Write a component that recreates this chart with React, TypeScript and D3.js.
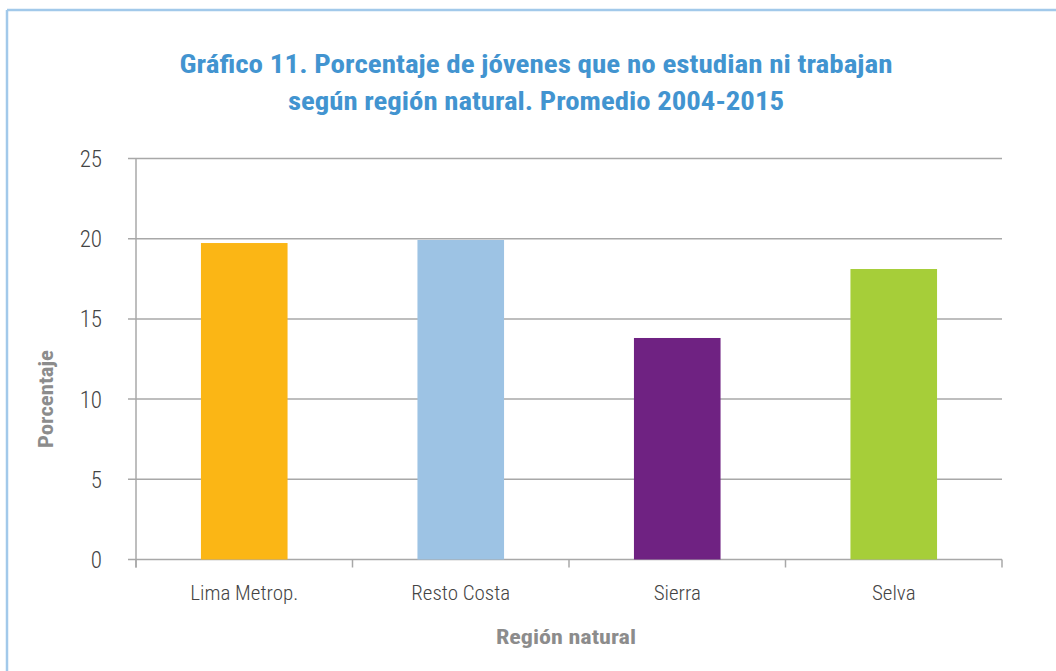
import React from "react";
import * as d3 from "d3";

const categories = ["Lima Metrop.", "Resto Costa", "Sierra", "Selva"];
const values = [19.73, 19.92, 13.81, 18.11];
const barColors = ["#FBB615", "#9DC3E4", "#6F2282", "#A6CE39"];
const yTicks = [0, 5, 10, 15, 20, 25];
const titleLines = [
  "Gráfico 11. Porcentaje de jóvenes que no estudian ni trabajan",
  "según región natural. Promedio 2004-2015",
];
const titleWidths = [713, 496];
const yAxisTitle = "Porcentaje";
const xAxisTitle = "Región natural";

const W = 1056;
const H = 671;
const left = 136;
const right = 1002;
const top = 158.5;
const bottom = 559.5;

const narrow = "'Liberation Sans Narrow', 'Roboto Condensed', 'Arial Narrow', sans-serif";

export default function App() {
  const x = d3
    .scaleBand<string>()
    .domain(categories)
    .range([left, right])
    .paddingInner(0.6)
    .paddingOuter(0.3);
  const y = d3.scaleLinear().domain([0, 25]).range([bottom, top]);
  const step = x.step();
  const boundaries = d3.range(categories.length + 1).map((i) => left + i * step);

  return (
    <svg
      width={W}
      height={H}
      style={{ position: "absolute", left: 0, top: 0, background: "#fff" }}
    >
      <rect x={0} y={0} width={W} height={H} fill="#fff" />
      {/* frame */}
      <line x1={7} y1={10} x2={W} y2={10} stroke="#A2C9EA" strokeWidth={2.5} />
      <line x1={7} y1={10} x2={7} y2={H} stroke="#A2C9EA" strokeWidth={2.5} />

      {/* title */}
      {titleLines.map((t, i) => (
        <text
          key={i}
          x={536}
          y={73 + i * 37}
          textAnchor="middle"
          fill="#4294D0"
          fontFamily={narrow}
          fontWeight="bold"
          fontSize={25.5}
          textLength={titleWidths[i]}
          lengthAdjust="spacingAndGlyphs"
        >
          {t}
        </text>
      ))}

      {/* gridlines */}
      {yTicks.map((t) => (
        <g key={t}>
          <line
            x1={left - 8}
            x2={right}
            y1={y(t)}
            y2={y(t)}
            stroke="#A8A8A8"
            strokeWidth={1.5}
          />
          <text
            x={102}
            y={y(t) + 8.5}
            textAnchor="end"
            fill="#444"
            fontFamily={narrow}
            fontSize={23}
            fontWeight={300}
          >
            {t}
          </text>
        </g>
      ))}

      {/* y axis */}
      <line x1={left} x2={left} y1={top} y2={bottom + 8} stroke="#A8A8A8" strokeWidth={1.5} />
      {boundaries.map((b, i) => (
        <line key={i} x1={b} x2={b} y1={bottom} y2={bottom + 8} stroke="#A8A8A8" strokeWidth={1.5} />
      ))}

      {/* bars */}
      {categories.map((c, i) => (
        <rect
          key={c}
          x={x(c)}
          y={y(values[i])}
          width={x.bandwidth()}
          height={y(0) - y(values[i])}
          fill={barColors[i]}
        />
      ))}

      {/* x labels */}
      {categories.map((c) => (
        <text
          key={c}
          x={(x(c) as number) + x.bandwidth() / 2}
          y={600}
          textAnchor="middle"
          fill="#444"
          fontFamily={narrow}
          fontSize={21}
          fontWeight={300}
        >
          {c}
        </text>
      ))}

      {/* axis titles */}
      <text
        x={566}
        y={643.5}
        textAnchor="middle"
        fill="#8C8C8C"
        fontFamily={narrow}
        fontWeight="bold"
        fontSize={20}
        textLength={140}
        lengthAdjust="spacingAndGlyphs"
      >
        {xAxisTitle}
      </text>
      <text
        transform={`translate(52.5,399) rotate(-90)`}
        textAnchor="middle"
        fill="#8C8C8C"
        fontFamily={narrow}
        fontWeight="bold"
        fontSize={20}
        textLength={98}
        lengthAdjust="spacingAndGlyphs"
      >
        {yAxisTitle}
      </text>
    </svg>
  );
}
